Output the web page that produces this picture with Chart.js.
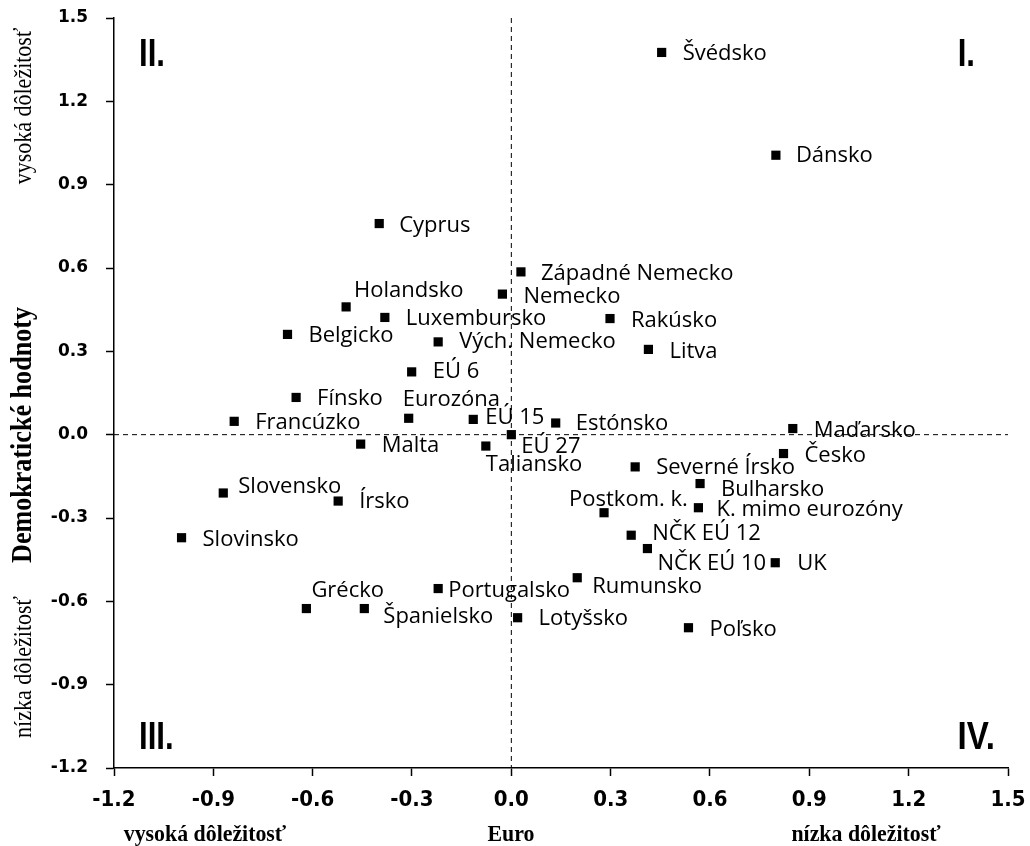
<!DOCTYPE html>
<html>
<head>
<meta charset="utf-8">
<script src="https://cdn.jsdelivr.net/npm/chart.js@4.4.1/dist/chart.umd.min.js"></script>
<style>
    body { margin: 0; background: #fff; }
    #wrap { width: 1030px; height: 846px; }
</style>
</head>
<body>
<div id="wrap"><canvas id="quadrantChart" width="1030" height="846"></canvas></div>
<script>
// Krajiny a ich pozicia: x = Euro, y = Demokraticke hodnoty
const countries = [
    'Švédsko', 'Dánsko', 'Cyprus', 'Západné Nemecko', 'Nemecko', 'Holandsko', 'Luxembursko',
    'Rakúsko', 'Belgicko', 'Vých. Nemecko', 'Litva', 'EÚ 6', 'Fínsko', 'Eurozóna', 'EÚ 15',
    'Francúzko', 'Estónsko', 'Maďarsko', 'EÚ 27', 'Malta', 'Taliansko', 'Česko', 'Severné Írsko',
    'Bulharsko', 'Slovensko', 'Írsko', 'K. mimo eurozóny', 'Postkom. k.', 'NČK EÚ 12', 'Slovinsko',
    'NČK EÚ 10', 'UK', 'Rumunsko', 'Portugalsko', 'Grécko', 'Španielsko', 'Lotyšsko', 'Poľsko'
];
const euroValues = [
    0.454, 0.799, -0.399, 0.029, -0.027, -0.499, -0.382,
    0.298, -0.676, -0.221, 0.414, -0.301, -0.650, -0.310, -0.115,
    -0.837, 0.134, 0.850, 0.000, -0.455, -0.077, 0.822, 0.374,
    0.570, -0.870, -0.523, 0.565, 0.280, 0.362, -0.996,
    0.411, 0.797, 0.199, -0.221, -0.619, -0.444, 0.019, 0.535
];
const democracyValues = [
    1.376, 1.006, 0.760, 0.586, 0.506, 0.460, 0.422,
    0.418, 0.361, 0.334, 0.307, 0.226, 0.134, 0.059, 0.055,
    0.048, 0.042, 0.022, 0.000, -0.034, -0.041, -0.068, -0.116,
    -0.176, -0.210, -0.239, -0.263, -0.281, -0.362, -0.371,
    -0.410, -0.461, -0.515, -0.554, -0.626, -0.626, -0.659, -0.695
];
const xTicks = [-1.2, -0.9, -0.6, -0.3, 0.0, 0.3, 0.6, 0.9, 1.2, 1.5];
const yTicks = [-1.2, -0.9, -0.6, -0.3, 0.0, 0.3, 0.6, 0.9, 1.2, 1.5];
const quadrants = ['I.', 'II.', 'III.', 'IV.'];

// posun popisu od znacky (px)
const labelOffsets = [
    [21, 1], [20, 1], [20, 2], [20, 2], [21, 3], [8, -16], [21, 1],
    [21, 2], [21, 1], [21, 0], [21, 2], [21, 0], [21, 1], [-6, -19], [12, -2],
    [21, 1], [20, 1], [21, 2], [10, 12], [21, 2], [0, 19], [21, 2], [21, 1],
    [21, 6], [15, -6], [21, 1], [18, 2], [-35, -13], [21, -1], [21, 2],
    [10, 15], [22, 1], [15, 9], [10, 2], [5, -18], [19, 8], [21, 1], [21, 2]
];

const points = euroValues.map((x, i) => ({ x: x, y: democracyValues[i] }));

// text stlaceny do sirky (uzsie pismo)
function narrowText(ctx, text, x, y, sx) {
    ctx.save();
    ctx.translate(x, y);
    ctx.scale(sx, 1);
    ctx.fillText(text, 0, 0);
    ctx.restore();
}

// nulove osi a popisy
const quadrantPlugin = {
    id: 'quadrantLines',
    beforeDatasetsDraw(chart) {
        const { ctx, chartArea, scales } = chart;
        const x0 = scales.x.getPixelForValue(0);
        const y0 = scales.y.getPixelForValue(0);
        ctx.save();
        ctx.strokeStyle = '#000';
        ctx.lineWidth = 1;
        ctx.setLineDash([5, 4]);
        ctx.beginPath();
        ctx.moveTo(x0, chartArea.top);
        ctx.lineTo(x0, chartArea.bottom);
        ctx.moveTo(chartArea.left, y0);
        ctx.lineTo(chartArea.right, y0);
        ctx.stroke();
        ctx.restore();
    },
    afterDatasetsDraw(chart) {
        const { ctx, chartArea } = chart;
        const meta = chart.getDatasetMeta(0);
        ctx.save();
        ctx.fillStyle = '#000';
        ctx.font = '22px "Open Sans"';
        ctx.textAlign = 'left';
        ctx.textBaseline = 'middle';
        meta.data.forEach((pt, i) => {
            const off = labelOffsets[i];
            ctx.fillText(countries[i], pt.x + off[0], pt.y + off[1]);
        });

        // kvadranty
        ctx.font = 'bold 39px "Liberation Sans", sans-serif';
        ctx.textBaseline = 'alphabetic';
        narrowText(ctx, quadrants[1], chartArea.left + 25, chartArea.top + 48, 0.8);
        narrowText(ctx, quadrants[2], chartArea.left + 25, chartArea.bottom - 19, 0.8);
        ctx.textAlign = 'right';
        narrowText(ctx, quadrants[0], chartArea.right - 33, chartArea.top + 48, 0.8);
        narrowText(ctx, quadrants[3], chartArea.right - 13, chartArea.bottom - 19, 0.85);

        // nazvy osi
        ctx.textAlign = 'center';
        ctx.font = 'bold 24px "Liberation Serif", serif';
        narrowText(ctx, 'vysoká dôležitosť', 205, 841, 0.91);
        narrowText(ctx, 'Euro', 511, 841, 0.91);
        narrowText(ctx, 'nízka dôležitosť', 866, 841, 0.91);

        ctx.translate(31, 0);
        ctx.rotate(-Math.PI / 2);
        ctx.font = '25px "Liberation Serif", serif';
        narrowText(ctx, 'vysoká dôležitosť', -106, 0, 0.88);
        narrowText(ctx, 'nízka dôležitosť', -667, 0, 0.88);
        ctx.font = 'bold 29px "Liberation Serif", serif';
        narrowText(ctx, 'Demokratické hodnoty', -435, 0, 0.9);
        ctx.restore();
    }
};

const ctx = document.getElementById('quadrantChart').getContext('2d');
const quadrantChart = new Chart(ctx, {
    type: 'scatter',
    data: {
        datasets: [{
            label: 'Krajiny',
            data: points,
            pointStyle: 'rect',
            pointRadius: 6.5,
            pointBackgroundColor: '#000',
            pointBorderColor: '#000',
            pointBorderWidth: 0,
        }],
    },
    options: {
        responsive: false,
        animation: false,
        layout: { padding: { left: 0, right: 22, top: 18, bottom: 0 } },
        plugins: {
            legend: { display: false },
            tooltip: { enabled: false },
        },
        scales: {
            x: {
                type: 'linear',
                min: xTicks[0],
                max: xTicks[xTicks.length - 1],
                afterBuildTicks: (scale) => { scale.ticks = xTicks.map(v => ({ value: v })); },
                afterFit: (scale) => {
                    scale.height = 78;
                    scale.paddingLeft = 0;
                    scale.paddingRight = 0;
                },
                ticks: {
                    autoSkip: false,
                    maxRotation: 0,
                    padding: 11,
                    color: '#000',
                    font: { family: '"Liberation Sans Narrow", "DejaVu Sans Condensed", sans-serif', size: 22, weight: 'bold' },
                    callback: (v) => v.toFixed(1),
                },
                grid: { drawOnChartArea: false, drawTicks: true, tickLength: 8, color: '#000', tickWidth: 1.5 },
                border: { display: true, color: '#000', width: 1.5 },
            },
            y: {
                type: 'linear',
                min: yTicks[0],
                max: yTicks[yTicks.length - 1],
                afterBuildTicks: (scale) => { scale.ticks = yTicks.map(v => ({ value: v })); },
                afterFit: (scale) => {
                    scale.width = 114;
                    scale.paddingTop = 0;
                    scale.paddingBottom = 0;
                },
                ticks: {
                    autoSkip: false,
                    padding: 18,
                    color: '#000',
                    font: { family: '"DejaVu Sans", sans-serif', size: 17, weight: 'bold' },
                    callback: (v) => v.toFixed(1),
                },
                grid: { drawOnChartArea: false, drawTicks: true, tickLength: 8, color: '#000', tickWidth: 1.5 },
                border: { display: true, color: '#000', width: 1.5 },
            },
        },
    },
    plugins: [quadrantPlugin],
});
</script>
</body>
</html>
